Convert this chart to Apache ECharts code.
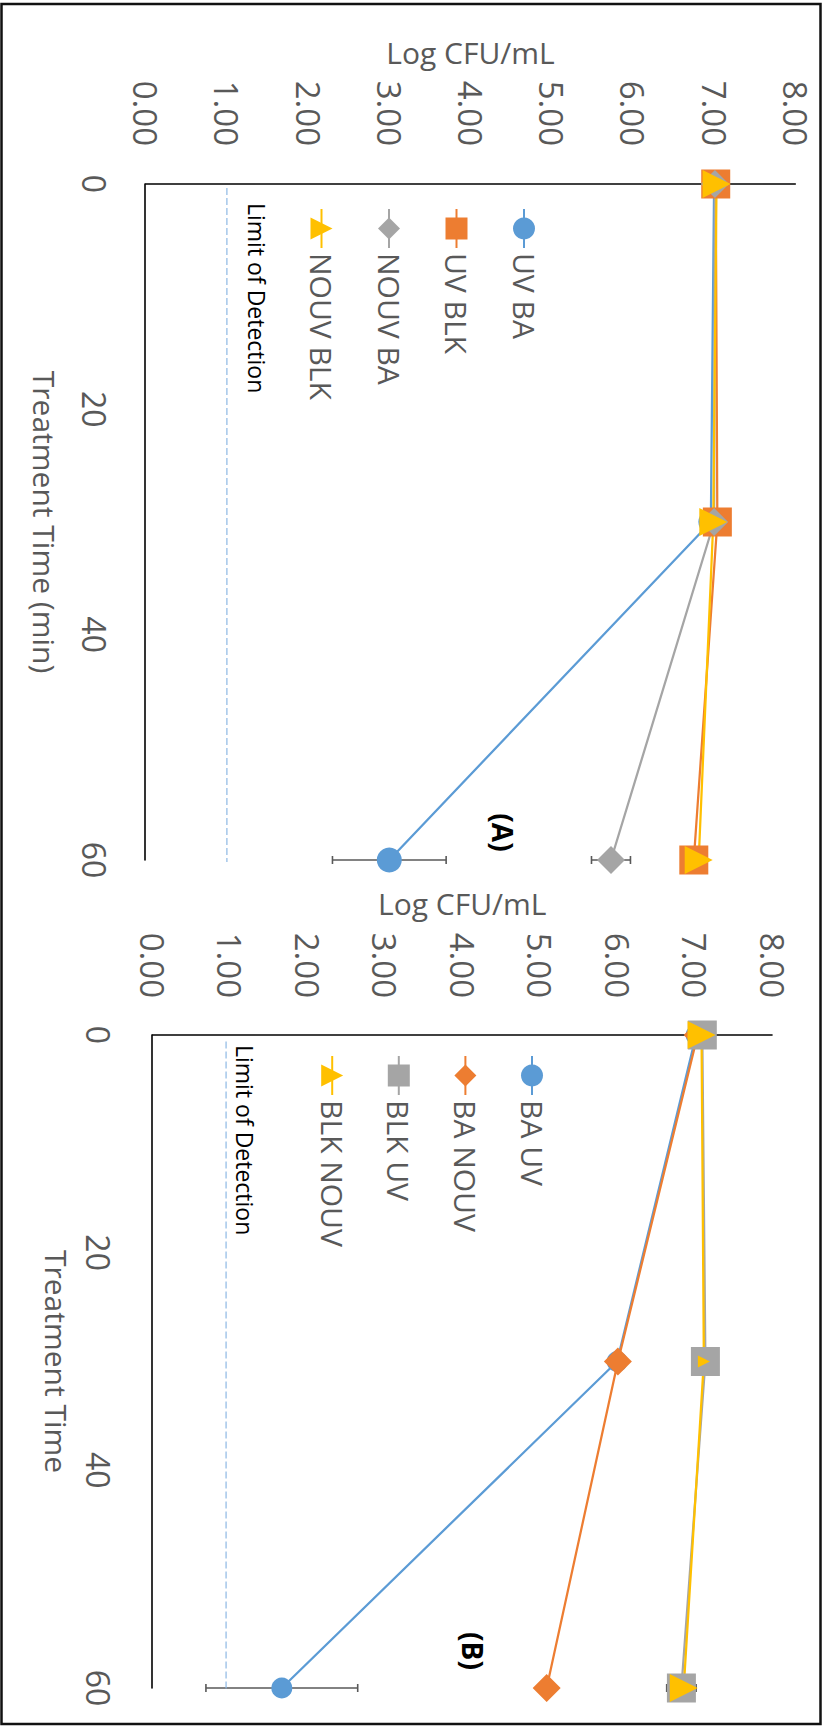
<!DOCTYPE html>
<html><head><meta charset="utf-8">
<script src="https://cdn.jsdelivr.net/npm/echarts@6/dist/echarts.min.js"></script>
<style>
html,body{margin:0;padding:0;background:#fff;overflow:hidden;width:828px;height:1727px;}
#wrap{position:absolute;left:0;top:0;width:1727px;height:828px;transform-origin:0 0;transform:translate(828px,0) rotate(90deg);}
</style></head><body>
<div id="wrap"></div>
<script>
// ---- data ----
const times = [0, 30, 60];
const timeMin = 0, timeMax = 60, timeStep = 20;
const logMin = 0, logMax = 8, logStep = 1;
// Panel A
const namesA = ['UV BA', 'UV BLK', 'NOUV BA', 'NOUV BLK'];
const uvBA = [7.00, 6.96, 3.00];
const uvBLK = [7.02, 7.04, 6.75];
const nouvBA = [7.01, 7.00, 5.73];
const nouvBLK = [7.03, 6.99, 6.81];
const errUvBA = [0, 0, 0.70];
const errNouvBA = [0, 0, 0.24];
// Panel B
const namesB = ['BA UV', 'BA NOUV', 'BLK UV', 'BLK NOUV'];
const baUV = [7.02, 6.00, 1.67];
const baNOUV = [7.04, 6.01, 5.09];
const blkUV = [7.10, 7.14, 6.83];
const blkNOUV = [7.09, 7.12, 6.86];
const errBaUV = [0, 0, 0.98];
const errBlkUV = [0, 0, 0.19];
// Limit of detection
const lodA = 1.0, lodB = 0.95;
const lodTimesA = [0.35, 61.5];
const lodTimesB = [0.6, 63];
const lodText = 'Limit of Detection';
const panelLabels = ['(A)', '(B)'];
const xNames = ['Treatment Time (min)', 'Treatment Time'];
const yName = 'Log CFU/mL';

// ---- styles ----
const FONT = "'Open Sans', sans-serif";
const TXT = '#595959';
const C = { blue: '#5B9BD5', orange: '#ED7D31', gray: '#A5A5A5', yellow: '#FFC000' };

function pts(vals) { return times.map((t, i) => [t, vals[i]]); }
function line(name, vals, color, symbol, size, gi) {
  return {
    name, type: 'line', xAxisIndex: gi, yAxisIndex: gi,
    data: pts(vals), symbol, symbolSize: size, showSymbol: true,
    lineStyle: { color, width: 2.25 }, itemStyle: { color },
    emphasis: { disabled: true }, animation: false, z: 3
  };
}
function errSeries(vals, errs, gi) {
  return {
    type: 'custom', xAxisIndex: gi, yAxisIndex: gi, z: 1, silent: true, animation: false,
    data: times.map((t, i) => [t, vals[i], errs[i]]).filter(d => d[2] > 0),
    renderItem(params, api) {
      const t = api.value(0), v = api.value(1), e = api.value(2);
      const lo = api.coord([t, v - e]), hi = api.coord([t, v + e]);
      const cap = 4, st = { stroke: '#595959', lineWidth: 1.6 };
      return { type: 'group', children: [
        { type: 'line', shape: { x1: lo[0], y1: lo[1], x2: hi[0], y2: hi[1] }, style: st },
        { type: 'line', shape: { x1: lo[0] - cap, y1: lo[1], x2: lo[0] + cap, y2: lo[1] }, style: st },
        { type: 'line', shape: { x1: hi[0] - cap, y1: hi[1], x2: hi[0] + cap, y2: hi[1] }, style: st }
      ]};
    }
  };
}
function lodSeries(level, ts, gi) {
  return {
    type: 'line', xAxisIndex: gi, yAxisIndex: gi, data: ts.map(t => [t, level]),
    symbol: 'none', clip: false, silent: true, animation: false, z: 1,
    lineStyle: { color: '#8DB8E4', width: 1.2, type: [7, 3] }
  };
}
function xAxis(gi, name, margin, gap) {
  return {
    gridIndex: gi, type: 'value', min: timeMin, max: timeMax, interval: timeStep,
    axisLine: { show: true, onZero: false, lineStyle: { color: '#000', width: 1.6 } },
    axisTick: { show: false }, splitLine: { show: false },
    axisLabel: { fontSize: 32, color: TXT, fontFamily: FONT, margin },
    name, nameLocation: 'middle', nameGap: gap,
    nameTextStyle: { fontSize: 30, color: TXT, fontFamily: FONT }
  };
}
function yAxis(gi, margin, gap) {
  return {
    gridIndex: gi, type: 'value', min: logMin, max: logMax, interval: logStep,
    axisLine: { show: true, onZero: false, lineStyle: { color: '#000', width: 1.6 } },
    axisTick: { show: false }, splitLine: { show: false },
    axisLabel: { fontSize: 33, color: TXT, fontFamily: FONT, margin, formatter: v => v.toFixed(2) },
    name: yName, nameLocation: 'middle', nameGap: gap,
    nameTextStyle: { fontSize: 30, color: TXT, fontFamily: FONT }
  };
}
function legend(names, left, top, gap) {
  return {
    data: names, orient: 'vertical', left, top, itemWidth: 39, itemHeight: 27.5, itemGap: gap,
    selectedMode: false, textStyle: { fontSize: 30, color: TXT, fontFamily: FONT }
  };
}

const chart = echarts.init(document.getElementById('wrap'), null, { renderer: 'svg', width: 1727, height: 828 });
chart.setOption({
  backgroundColor: '#fff',
  animation: false,
  grid: [
    { left: 184, top: 32.7, width: 676, height: 649.6 },
    { left: 1035, top: 56, width: 653, height: 619.5 }
  ],
  xAxis: [xAxis(0, xNames[0], 35, 86), xAxis(1, xNames[1], 38, 81)],
  yAxis: [yAxis(0, 38, 117), yAxis(1, 37, 117)],
  legend: [legend(namesA, 203, 284, 37.5), legend(namesB, 1050, 276, 36.6)],
  series: [
    lodSeries(lodA, lodTimesA, 0),
    errSeries(uvBA, errUvBA, 0),
    errSeries(nouvBA, errNouvBA, 0),
    line(namesA[0], uvBA, C.blue, 'circle', 25, 0),
    line(namesA[1], uvBLK, C.orange, 'rect', 29, 0),
    line(namesA[2], nouvBA, C.gray, 'diamond', 28, 0),
    line(namesA[3], nouvBLK, C.yellow, 'triangle', 28, 0),
    lodSeries(lodB, lodTimesB, 1),
    errSeries(baUV, errBaUV, 1),
    errSeries(blkUV, errBlkUV, 1),
    line(namesB[0], baUV, C.blue, 'circle', 21, 1),
    line(namesB[1], baNOUV, C.orange, 'diamond', 28, 1),
    line(namesB[2], blkUV, C.gray, 'rect', 29, 1),
    Object.assign(line(namesB[3], blkNOUV, C.yellow, 'triangle', 28, 1),
      { symbolSize: (v, p) => (p.dataIndex === 1 ? 12 : 28) })
  ],
  graphic: [
    { type: 'rect', shape: { x: 4, y: 7.5, width: 1720, height: 819 }, style: { fill: 'none', stroke: '#111', lineWidth: 2.5 }, silent: true },
    { type: 'text', x: 832.5, y: 325.5, style: { text: panelLabels[0], fill: '#000', font: "bold 28px 'Open Sans', sans-serif", align: 'center', verticalAlign: 'middle' } },
    { type: 'text', x: 1651, y: 355.4, style: { text: panelLabels[1], fill: '#000', font: "bold 28px 'Open Sans', sans-serif", align: 'center', verticalAlign: 'middle' } },
    { type: 'text', x: 203, y: 571, style: { text: lodText, fill: '#000', font: "23px 'Open Sans', sans-serif", align: 'left', verticalAlign: 'middle' } },
    { type: 'text', x: 1045, y: 583.5, style: { text: lodText, fill: '#000', font: "23px 'Open Sans', sans-serif", align: 'left', verticalAlign: 'middle' } }
  ]
});
</script>
</body></html>
